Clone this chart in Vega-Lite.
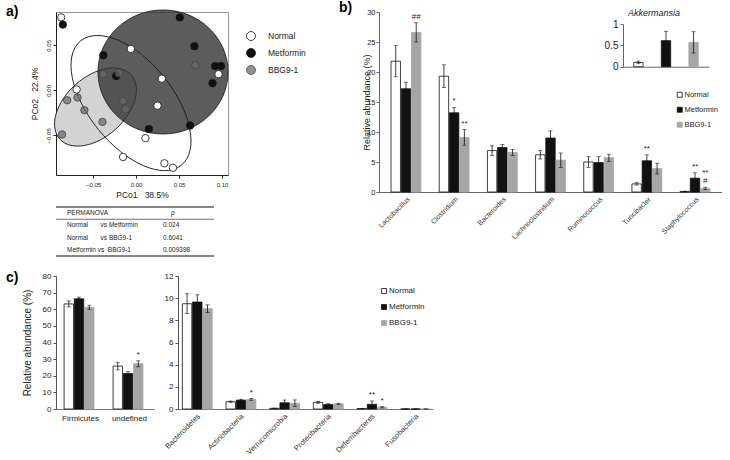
{
  "$schema": "https://vega.github.io/schema/vega-lite/v6.json",
  "background": "white",
  "padding": {"left": 5, "top": 1, "right": 0, "bottom": 0},
  "config": {
    "font": "Liberation Sans",
    "view": {"stroke": null},
    "axis": {"grid": false, "labelOverlap": false, "domainColor": "#555", "tickColor": "#555", "labelColor": "#222", "titleColor": "#222", "titleFontWeight": "normal"},
    "legend": {"labelColor": "#222"},
    "title": {"fontSize": 14, "fontWeight": "bold", "anchor": "start", "frame": "group", "color": "#000", "offset": 0}
  },
  "datasets": {
    "pcoa": [
      {"group": "Normal", "pc1": -0.087, "pc2": 0.081},
      {"group": "Normal", "pc1": -0.006, "pc2": 0.046},
      {"group": "Normal", "pc1": 0.030, "pc2": 0.013},
      {"group": "Normal", "pc1": -0.069, "pc2": 0.001},
      {"group": "Normal", "pc1": 0.025, "pc2": -0.017},
      {"group": "Normal", "pc1": 0.011, "pc2": -0.053},
      {"group": "Normal", "pc1": -0.015, "pc2": -0.074},
      {"group": "Normal", "pc1": 0.033, "pc2": -0.081},
      {"group": "Normal", "pc1": 0.043, "pc2": -0.086},
      {"group": "Normal", "pc1": 0.096, "pc2": 0.018},
      {"group": "Metformin", "pc1": -0.085, "pc2": 0.073},
      {"group": "Metformin", "pc1": 0.051, "pc2": 0.081},
      {"group": "Metformin", "pc1": 0.068, "pc2": 0.049},
      {"group": "Metformin", "pc1": -0.038, "pc2": 0.039},
      {"group": "Metformin", "pc1": -0.023, "pc2": 0.016},
      {"group": "Metformin", "pc1": 0.092, "pc2": 0.027},
      {"group": "Metformin", "pc1": 0.099, "pc2": 0.027},
      {"group": "Metformin", "pc1": 0.089, "pc2": 0.008},
      {"group": "Metformin", "pc1": 0.015, "pc2": -0.043},
      {"group": "Metformin", "pc1": 0.063, "pc2": -0.039},
      {"group": "BBG9-1", "pc1": -0.038, "pc2": 0.018},
      {"group": "BBG9-1", "pc1": -0.020, "pc2": 0.019},
      {"group": "BBG9-1", "pc1": 0.069, "pc2": 0.028},
      {"group": "BBG9-1", "pc1": -0.080, "pc2": -0.011},
      {"group": "BBG9-1", "pc1": -0.068, "pc2": -0.008},
      {"group": "BBG9-1", "pc1": -0.060, "pc2": -0.022},
      {"group": "BBG9-1", "pc1": -0.039, "pc2": -0.035},
      {"group": "BBG9-1", "pc1": -0.015, "pc2": -0.012},
      {"group": "BBG9-1", "pc1": -0.012, "pc2": -0.021},
      {"group": "BBG9-1", "pc1": -0.086, "pc2": -0.049}
    ],
    "centers": [
      {"group": "Normal", "pc1": -0.0058, "pc2": -0.0141},
      {"group": "Metformin", "pc1": 0.0314, "pc2": 0.0204},
      {"group": "BBG9-1", "pc1": -0.0471, "pc2": -0.0185}
    ],
    "permanova": [
      {"row": "h", "cmp": "PERMANOVA", "p": "p"},
      {"row": "r1", "cmp": "Normal\u00a0\u00a0\u00a0\u00a0\u00a0\u00a0\u00a0vs\u00a0Metformin", "p": "0.024"},
      {"row": "r2", "cmp": "Normal\u00a0\u00a0\u00a0\u00a0\u00a0\u00a0\u00a0vs\u00a0BBG9-1", "p": "0.6041"},
      {"row": "r3", "cmp": "Metformin\u00a0vs\u00a0\u00a0BBG9-1", "p": "0.009398"}
    ],
    "genus": [
      {"genus": "Lactobacillus", "group": "Normal", "mean": 21.8, "lo": 19.2, "hi": 24.4, "sig": "", "sig2": ""},
      {"genus": "Lactobacillus", "group": "Metformin", "mean": 17.2, "lo": 16.1, "hi": 18.3, "sig": "", "sig2": ""},
      {"genus": "Lactobacillus", "group": "BBG9-1", "mean": 26.6, "lo": 25.0, "hi": 28.2, "sig": "##", "sig2": ""},
      {"genus": "Clostridium", "group": "Normal", "mean": 19.3, "lo": 17.4, "hi": 21.2, "sig": "", "sig2": ""},
      {"genus": "Clostridium", "group": "Metformin", "mean": 13.2, "lo": 12.3, "hi": 14.1, "sig": "*", "sig2": ""},
      {"genus": "Clostridium", "group": "BBG9-1", "mean": 9.1, "lo": 7.8, "hi": 10.4, "sig": "**", "sig2": ""},
      {"genus": "Bacteroides", "group": "Normal", "mean": 6.9, "lo": 6.1, "hi": 7.7, "sig": "", "sig2": ""},
      {"genus": "Bacteroides", "group": "Metformin", "mean": 7.4, "lo": 7.0, "hi": 7.9, "sig": "", "sig2": ""},
      {"genus": "Bacteroides", "group": "BBG9-1", "mean": 6.6, "lo": 6.1, "hi": 7.1, "sig": "", "sig2": ""},
      {"genus": "Lachnoclostridium", "group": "Normal", "mean": 6.2, "lo": 5.5, "hi": 6.9, "sig": "", "sig2": ""},
      {"genus": "Lachnoclostridium", "group": "Metformin", "mean": 9.0, "lo": 7.8, "hi": 10.2, "sig": "", "sig2": ""},
      {"genus": "Lachnoclostridium", "group": "BBG9-1", "mean": 5.3, "lo": 4.1, "hi": 6.5, "sig": "", "sig2": ""},
      {"genus": "Ruminococcus", "group": "Normal", "mean": 5.0, "lo": 4.1, "hi": 5.9, "sig": "", "sig2": ""},
      {"genus": "Ruminococcus", "group": "Metformin", "mean": 4.9, "lo": 3.9, "hi": 5.9, "sig": "", "sig2": ""},
      {"genus": "Ruminococcus", "group": "BBG9-1", "mean": 5.7, "lo": 5.1, "hi": 6.3, "sig": "", "sig2": ""},
      {"genus": "Turicibacter", "group": "Normal", "mean": 1.35, "lo": 1.15, "hi": 1.55, "sig": "", "sig2": ""},
      {"genus": "Turicibacter", "group": "Metformin", "mean": 5.2, "lo": 4.2, "hi": 6.2, "sig": "**", "sig2": ""},
      {"genus": "Turicibacter", "group": "BBG9-1", "mean": 3.9, "lo": 3.0, "hi": 4.8, "sig": "", "sig2": ""},
      {"genus": "Staphylococcus", "group": "Normal", "mean": 0.1, "lo": 0.08, "hi": 0.12, "sig": "", "sig2": ""},
      {"genus": "Staphylococcus", "group": "Metformin", "mean": 2.3, "lo": 1.4, "hi": 3.2, "sig": "**", "sig2": ""},
      {"genus": "Staphylococcus", "group": "BBG9-1", "mean": 0.6, "lo": 0.4, "hi": 0.8, "sig": "#", "sig2": "**"}
    ],
    "akk": [
      {"group": "Normal", "mean": 0.1, "lo": 0.07, "hi": 0.13, "title": "Akkermansia"},
      {"group": "Metformin", "mean": 0.61, "lo": 0.39, "hi": 0.83, "title": "Akkermansia"},
      {"group": "BBG9-1", "mean": 0.57, "lo": 0.32, "hi": 0.82, "title": "Akkermansia"}
    ],
    "phylumA": [
      {"phylum": "Firmicutes", "group": "Normal", "mean": 63.2, "lo": 61.4, "hi": 65.0, "sig": ""},
      {"phylum": "Firmicutes", "group": "Metformin", "mean": 66.3, "lo": 65.3, "hi": 67.3, "sig": ""},
      {"phylum": "Firmicutes", "group": "BBG9-1", "mean": 61.2, "lo": 60.0, "hi": 62.4, "sig": ""},
      {"phylum": "undefined", "group": "Normal", "mean": 25.8, "lo": 23.5, "hi": 28.1, "sig": ""},
      {"phylum": "undefined", "group": "Metformin", "mean": 21.3, "lo": 20.1, "hi": 22.5, "sig": ""},
      {"phylum": "undefined", "group": "BBG9-1", "mean": 27.2, "lo": 25.4, "hi": 29.0, "sig": "*"}
    ],
    "phylumB": [
      {"phylum": "Bacteroidetes", "group": "Normal", "mean": 9.5, "lo": 8.6, "hi": 10.4, "sig": ""},
      {"phylum": "Bacteroidetes", "group": "Metformin", "mean": 9.65, "lo": 9.0, "hi": 10.3, "sig": ""},
      {"phylum": "Bacteroidetes", "group": "BBG9-1", "mean": 9.05, "lo": 8.7, "hi": 9.4, "sig": ""},
      {"phylum": "Actinobacteria", "group": "Normal", "mean": 0.66, "lo": 0.6, "hi": 0.72, "sig": ""},
      {"phylum": "Actinobacteria", "group": "Metformin", "mean": 0.8, "lo": 0.72, "hi": 0.88, "sig": ""},
      {"phylum": "Actinobacteria", "group": "BBG9-1", "mean": 0.86, "lo": 0.78, "hi": 0.94, "sig": "*"},
      {"phylum": "Verrucomicrobia", "group": "Normal", "mean": 0.06, "lo": 0.04, "hi": 0.08, "sig": ""},
      {"phylum": "Verrucomicrobia", "group": "Metformin", "mean": 0.56, "lo": 0.31, "hi": 0.81, "sig": ""},
      {"phylum": "Verrucomicrobia", "group": "BBG9-1", "mean": 0.52, "lo": 0.22, "hi": 0.82, "sig": ""},
      {"phylum": "Proteobacteria", "group": "Normal", "mean": 0.6, "lo": 0.52, "hi": 0.68, "sig": ""},
      {"phylum": "Proteobacteria", "group": "Metformin", "mean": 0.4, "lo": 0.32, "hi": 0.48, "sig": ""},
      {"phylum": "Proteobacteria", "group": "BBG9-1", "mean": 0.47, "lo": 0.42, "hi": 0.52, "sig": ""},
      {"phylum": "Deferribacteres", "group": "Normal", "mean": 0.04, "lo": 0.03, "hi": 0.05, "sig": ""},
      {"phylum": "Deferribacteres", "group": "Metformin", "mean": 0.42, "lo": 0.12, "hi": 0.72, "sig": "**"},
      {"phylum": "Deferribacteres", "group": "BBG9-1", "mean": 0.16, "lo": 0.1, "hi": 0.22, "sig": "*"},
      {"phylum": "Fusobacteria", "group": "Normal", "mean": 0, "lo": 0, "hi": 0, "sig": ""},
      {"phylum": "Fusobacteria", "group": "Metformin", "mean": 0, "lo": 0, "hi": 0, "sig": ""},
      {"phylum": "Fusobacteria", "group": "BBG9-1", "mean": 0, "lo": 0, "hi": 0, "sig": ""}
    ]
  },
  "resolve": {"scale": {"fill": "independent", "stroke": "independent"}, "legend": {"fill": "independent", "stroke": "independent"}},
  "spacing": 14,
  "vconcat": [
    {
      "resolve": {"scale": {"fill": "independent", "stroke": "independent"}, "legend": {"fill": "independent", "stroke": "independent"}},
      "spacing": 32,
      "align": "none",
      "hconcat": [
        {
          "bounds": "flush",
          "spacing": 32,
          "resolve": {"scale": {"fill": "independent", "stroke": "independent"}, "legend": {"fill": "independent", "stroke": "independent"}},
          "vconcat": [
            {
              "width": 172, "height": 163,
              "view": {"stroke": "#999"},
              "title": {"text": "a)", "dx": -50, "dy": 15},
              "encoding": {
                "x": {"field": "pc1", "type": "quantitative", "scale": {"domain": [-0.093, 0.107], "nice": false, "zero": false},
                  "axis": {"values": [-0.05, 0, 0.05, 0.1], "format": ".2f", "labelFontSize": 6, "tickSize": 3, "labelPadding": 3, "domainColor": "#222", "tickColor": "#222", "title": "PCo1\u00a0\u00a0\u00a038.5%", "titleFontSize": 8.5, "titlePadding": 3}},
                "y": {"field": "pc2", "type": "quantitative", "scale": {"domain": [-0.094, 0.087], "nice": false, "zero": false},
                  "axis": {"values": [-0.05, 0, 0.05], "format": ".2f", "labelAngle": 270, "labelAlign": "center", "labelBaseline": "bottom", "labelFontSize": 6, "tickSize": 3, "labelPadding": 2, "domainColor": "#222", "tickColor": "#222", "title": "PCo2\u00a0\u00a0\u00a022.4%", "titleFontSize": 8.5, "titlePadding": 6}}
              },
              "layer": [
                {"data": {"name": "centers"}, "transform": [{"filter": "datum.group === 'BBG9-1'"}],
                 "mark": {"type": "point", "shape": "M -1 0 A 1 0.625 0 1 1 1 0 A 1 0.625 0 1 1 -1 0 Z", "size": 9216, "angle": 318, "filled": true, "fill": "#d3d3d3", "stroke": "#222", "strokeWidth": 0.9, "opacity": 1}},
                {"data": {"name": "centers"}, "transform": [{"filter": "datum.group === 'Metformin'"}],
                 "mark": {"type": "point", "shape": "M -1 0 A 1 0.954 0 1 1 1 0 A 1 0.954 0 1 1 -1 0 Z", "size": 16900, "angle": 0, "filled": true, "fill": "#333333", "fillOpacity": 0.8, "stroke": "#222", "strokeWidth": 0.9, "opacity": 1}},
                {"data": {"name": "centers"}, "transform": [{"filter": "datum.group === 'Normal'"}],
                 "mark": {"type": "point", "shape": "M -1 0 A 1 0.525 0 1 1 1 0 A 1 0.525 0 1 1 -1 0 Z", "size": 25600, "angle": 51, "filled": false, "stroke": "#222", "strokeWidth": 0.9, "opacity": 1}},
                {"data": {"name": "pcoa"},
                 "mark": {"type": "point", "filled": true, "size": 55, "strokeWidth": 0.8, "opacity": 1},
                 "encoding": {
                   "fill": {"field": "group", "type": "nominal", "scale": {"domain": ["Normal", "Metformin", "BBG9-1"], "range": ["#ffffff", "#111111", "rgba(105,105,105,0.72)"]},
                     "legend": {"orient": "none", "legendX": 190, "legendY": 19, "title": null, "symbolType": "circle", "symbolSize": 80, "symbolStrokeWidth": 0.8, "labelFontSize": 8.5, "labelOffset": 12, "rowPadding": 3}},
                   "stroke": {"field": "group", "type": "nominal", "scale": {"domain": ["Normal", "Metformin", "BBG9-1"], "range": ["#111111", "#111111", "#444444"]},
                     "legend": {"orient": "none", "legendX": 190, "legendY": 19, "title": null, "symbolType": "circle", "symbolSize": 80, "symbolStrokeWidth": 0.8, "labelFontSize": 8.5, "labelOffset": 12, "rowPadding": 3}}
                 }}
              ]
            },
            {
              "width": 158, "height": 49,
              "layer": [
                {"data": {"values": [{"k": 1}]}, "mark": {"type": "rule", "color": "#111", "strokeWidth": 1},
                 "encoding": {"y": {"datum": "h", "type": "nominal", "bandPosition": 0, "scale": {"type": "band", "domain": ["h", "r1", "r2", "r3"], "paddingInner": 0, "paddingOuter": 0}, "axis": null}}},
                {"data": {"values": [{"k": 1}]}, "mark": {"type": "rule", "color": "#333", "strokeWidth": 0.7},
                 "encoding": {"y": {"datum": "r1", "type": "nominal", "bandPosition": 0, "axis": null}}},
                {"data": {"values": [{"k": 1}]}, "mark": {"type": "rule", "color": "#111", "strokeWidth": 1},
                 "encoding": {"y": {"datum": "r3", "type": "nominal", "bandPosition": 1, "axis": null}}},
                {"data": {"name": "permanova"}, "mark": {"type": "text", "align": "left", "dx": 11, "fontSize": 6.5, "color": "#222"},
                 "encoding": {
                   "x": {"datum": "cmp", "type": "nominal", "bandPosition": 0, "scale": {"type": "band", "domain": ["cmp", "p"], "paddingInner": 0, "paddingOuter": 0}, "axis": null},
                   "y": {"field": "row", "type": "nominal", "axis": null},
                   "text": {"field": "cmp"}}},
                {"data": {"name": "permanova"}, "transform": [{"filter": "datum.row !== 'h'"}], "mark": {"type": "text", "align": "left", "dx": 28, "fontSize": 6.5, "color": "#222"},
                 "encoding": {"x": {"datum": "p", "type": "nominal", "bandPosition": 0, "axis": null}, "y": {"field": "row", "type": "nominal", "axis": null}, "text": {"field": "p"}}},
                {"data": {"name": "permanova"}, "transform": [{"filter": "datum.row === 'h'"}], "mark": {"type": "text", "align": "left", "dx": 36, "fontSize": 6.5, "fontStyle": "italic", "color": "#222"},
                 "encoding": {"x": {"datum": "p", "type": "nominal", "bandPosition": 0, "axis": null}, "y": {"field": "row", "type": "nominal", "axis": null}, "text": {"field": "p"}}}
              ]
            }
          ]
        },
        {
          "width": 343, "height": 180,
          "title": {"text": "b)", "dx": -40, "dy": 11},
          "layer": [
            {
              "data": {"name": "genus"},
              "encoding": {
                "x": {"field": "genus", "type": "nominal", "sort": null, "scale": {"domain": ["Lactobacillus", "Clostridium", "Bacteroides", "Lachnoclostridium", "Ruminococcus", "Turicibacter", "Staphylococcus"], "paddingInner": 0.38, "paddingOuter": 0.25},
                  "axis": {"title": null, "labelAngle": -45, "labelFontSize": 7, "ticks": false, "labelPadding": 3, "domainColor": "#666", "labelColor": "#333"}},
                "xOffset": {"field": "group", "type": "nominal", "sort": null, "scale": {"domain": ["Normal", "Metformin", "BBG9-1"], "paddingInner": 0.08}}
              },
              "layer": [
                {"mark": {"type": "bar", "strokeWidth": 0.8},
                 "encoding": {
                   "y": {"field": "mean", "type": "quantitative", "scale": {"domain": [0, 30], "nice": false},
                     "axis": {"title": "Relative abundance (%)", "titleFontSize": 9, "values": [0, 5, 10, 15, 20, 25, 30], "format": "d", "labelOverlap": false, "labelFontSize": 7.5, "tickSize": 3, "labelPadding": 1, "titlePadding": -5, "domainColor": "#666", "tickColor": "#666"}},
                   "fill": {"field": "group", "type": "nominal", "scale": {"domain": ["Normal", "Metformin", "BBG9-1"], "range": ["#ffffff", "#111111", "#a6a6a6"]},
                     "legend": {"orient": "none", "legendX": 297, "legendY": 79, "title": null, "symbolType": "square", "symbolSize": 25, "symbolStrokeWidth": 0.8, "labelFontSize": 7.5, "labelOffset": 1, "rowPadding": 6}},
                   "stroke": {"field": "group", "type": "nominal", "scale": {"domain": ["Normal", "Metformin", "BBG9-1"], "range": ["#111111", "#111111", "#a6a6a6"]},
                     "legend": {"orient": "none", "legendX": 297, "legendY": 79, "title": null, "symbolType": "square", "symbolSize": 25, "symbolStrokeWidth": 0.8, "labelFontSize": 7.5, "labelOffset": 1, "rowPadding": 6}}
                 }},
                {"mark": {"type": "rule", "color": "#111", "strokeWidth": 0.8}, "encoding": {"y": {"field": "lo", "type": "quantitative", "axis": {"title": "Relative abundance (%)", "titleFontSize": 9, "values": [0, 5, 10, 15, 20, 25, 30], "format": "d", "labelOverlap": false, "labelFontSize": 7.5, "tickSize": 3, "labelPadding": 1, "titlePadding": -5, "domainColor": "#666", "tickColor": "#666"}}, "y2": {"field": "hi"}}},
                {"mark": {"type": "tick", "orient": "horizontal", "size": 4, "thickness": 0.8, "color": "#111"}, "encoding": {"y": {"field": "hi", "type": "quantitative", "axis": {"title": "Relative abundance (%)", "titleFontSize": 9, "values": [0, 5, 10, 15, 20, 25, 30], "format": "d", "labelOverlap": false, "labelFontSize": 7.5, "tickSize": 3, "labelPadding": 1, "titlePadding": -5, "domainColor": "#666", "tickColor": "#666"}}}},
                {"mark": {"type": "tick", "orient": "horizontal", "size": 4, "thickness": 0.8, "color": "#111"}, "encoding": {"y": {"field": "lo", "type": "quantitative", "axis": {"title": "Relative abundance (%)", "titleFontSize": 9, "values": [0, 5, 10, 15, 20, 25, 30], "format": "d", "labelOverlap": false, "labelFontSize": 7.5, "tickSize": 3, "labelPadding": 1, "titlePadding": -5, "domainColor": "#666", "tickColor": "#666"}}}},
                {"transform": [{"filter": "datum.sig != ''"}],
                 "mark": {"type": "text", "baseline": "bottom", "dy": -2, "fontSize": 8, "color": "#222"},
                 "encoding": {"y": {"field": "hi", "type": "quantitative", "axis": {"title": "Relative abundance (%)", "titleFontSize": 9, "values": [0, 5, 10, 15, 20, 25, 30], "format": "d", "labelOverlap": false, "labelFontSize": 7.5, "tickSize": 3, "labelPadding": 1, "titlePadding": -5, "domainColor": "#666", "tickColor": "#666"}}, "text": {"field": "sig"}}},
                {"transform": [{"filter": "datum.sig2 != ''"}],
                 "mark": {"type": "text", "baseline": "bottom", "dy": -10, "fontSize": 8, "color": "#222"},
                 "encoding": {"y": {"field": "hi", "type": "quantitative", "axis": {"title": "Relative abundance (%)", "titleFontSize": 9, "values": [0, 5, 10, 15, 20, 25, 30], "format": "d", "labelOverlap": false, "labelFontSize": 7.5, "tickSize": 3, "labelPadding": 1, "titlePadding": -5, "domainColor": "#666", "tickColor": "#666"}}, "text": {"field": "sig2"}}}
              ]
            },
            {
              "data": {"name": "akk"},
              "encoding": {
                "x": {"field": "group", "type": "nominal", "sort": null, "scale": {"domain": ["Normal", "Metformin", "BBG9-1"], "range": [244, 330], "paddingInner": 0.66, "paddingOuter": 0.39},
                  "axis": {"orient": "bottom", "offset": -125.3, "labels": false, "ticks": false, "title": null, "domainColor": "#666"}}
              },
              "layer": [
                {"mark": {"type": "bar", "strokeWidth": 0.8},
                 "encoding": {
                   "y": {"field": "mean", "type": "quantitative", "scale": {"domain": [0, 1], "range": [54.7, 12], "nice": false},
                     "axis": {"orient": "left", "offset": -244, "values": [0, 0.5, 1], "format": "~g", "labelOverlap": false, "labelFontSize": 10, "tickSize": 3, "title": null, "domainColor": "#666", "tickColor": "#666"}},
                   "fill": {"field": "group", "type": "nominal",
                     "legend": {"orient": "none", "legendX": 297, "legendY": 79, "title": null, "symbolType": "square", "symbolSize": 25, "symbolStrokeWidth": 0.8, "labelFontSize": 7.5, "labelOffset": 1, "rowPadding": 6}},
                   "stroke": {"field": "group", "type": "nominal",
                     "legend": {"orient": "none", "legendX": 297, "legendY": 79, "title": null, "symbolType": "square", "symbolSize": 25, "symbolStrokeWidth": 0.8, "labelFontSize": 7.5, "labelOffset": 1, "rowPadding": 6}}
                 }},
                {"mark": {"type": "rule", "color": "#111", "strokeWidth": 0.8}, "encoding": {"y": {"field": "lo", "type": "quantitative", "axis": {"orient": "left", "offset": -244, "values": [0, 0.5, 1], "format": "~g", "labelOverlap": false, "labelFontSize": 10, "tickSize": 3, "title": null, "domainColor": "#666", "tickColor": "#666"}}, "y2": {"field": "hi"}}},
                {"mark": {"type": "tick", "orient": "horizontal", "size": 4, "thickness": 0.8, "color": "#111"}, "encoding": {"y": {"field": "hi", "type": "quantitative", "axis": {"orient": "left", "offset": -244, "values": [0, 0.5, 1], "format": "~g", "labelOverlap": false, "labelFontSize": 10, "tickSize": 3, "title": null, "domainColor": "#666", "tickColor": "#666"}}}},
                {"mark": {"type": "tick", "orient": "horizontal", "size": 4, "thickness": 0.8, "color": "#111"}, "encoding": {"y": {"field": "lo", "type": "quantitative", "axis": {"orient": "left", "offset": -244, "values": [0, 0.5, 1], "format": "~g", "labelOverlap": false, "labelFontSize": 10, "tickSize": 3, "title": null, "domainColor": "#666", "tickColor": "#666"}}}},
                {"transform": [{"filter": "datum.group === 'Metformin'"}],
                 "mark": {"type": "text", "fontSize": 9, "fontStyle": "italic", "dx": -12, "color": "#222"},
                 "encoding": {"y": {"datum": 1.25, "type": "quantitative", "axis": {"orient": "left", "offset": -244, "values": [0, 0.5, 1], "format": "~g", "labelOverlap": false, "labelFontSize": 10, "tickSize": 3, "title": null, "domainColor": "#666", "tickColor": "#666"}}, "text": {"field": "title"}}}
              ]
            }
          ],
          "resolve": {"scale": {"x": "independent", "y": "independent"}}
        }
      ]
    },
    {
      "bounds": "flush",
      "spacing": 24,
      "resolve": {"scale": {"fill": "independent", "stroke": "independent"}, "legend": {"fill": "independent", "stroke": "independent"}},
      "hconcat": [
        {
          "width": 98, "height": 133,
          "title": {"text": "c)", "dx": -50, "dy": 17},
          "data": {"name": "phylumA"},
          "encoding": {
            "x": {"field": "phylum", "type": "nominal", "sort": null, "scale": {"domain": ["Firmicutes", "undefined"], "paddingInner": 0.33, "paddingOuter": 0.165},
              "axis": {"title": null, "labelAngle": 0, "labelFontSize": 8, "ticks": false, "labelPadding": 5, "domainColor": "#777"}},
            "xOffset": {"field": "group", "type": "nominal", "sort": null, "scale": {"domain": ["Normal", "Metformin", "BBG9-1"], "paddingInner": 0.08}}
          },
          "layer": [
            {"mark": {"type": "bar", "strokeWidth": 0.8},
             "encoding": {
               "y": {"field": "mean", "type": "quantitative", "scale": {"domain": [0, 80], "nice": false},
                 "axis": {"title": "Relative abundance (%)", "titleFontSize": 10, "values": [0, 10, 20, 30, 40, 50, 60, 70, 80], "format": "d", "labelOverlap": false, "labelFontSize": 8, "tickSize": 3, "titlePadding": 10, "domainColor": "#555"}},
               "fill": {"field": "group", "type": "nominal", "scale": {"domain": ["Normal", "Metformin", "BBG9-1"], "range": ["#ffffff", "#111111", "#a6a6a6"]}, "legend": null},
               "stroke": {"field": "group", "type": "nominal", "scale": {"domain": ["Normal", "Metformin", "BBG9-1"], "range": ["#111111", "#111111", "#a6a6a6"]}, "legend": null}
             }},
            {"mark": {"type": "rule", "color": "#111", "strokeWidth": 0.8}, "encoding": {"y": {"field": "lo", "type": "quantitative", "axis": {"title": "Relative abundance (%)", "titleFontSize": 10, "values": [0, 10, 20, 30, 40, 50, 60, 70, 80], "format": "d", "labelOverlap": false, "labelFontSize": 8, "tickSize": 3, "titlePadding": 10, "domainColor": "#555"}}, "y2": {"field": "hi"}}},
            {"mark": {"type": "tick", "orient": "horizontal", "size": 4, "thickness": 0.8, "color": "#111"}, "encoding": {"y": {"field": "hi", "type": "quantitative", "axis": {"title": "Relative abundance (%)", "titleFontSize": 10, "values": [0, 10, 20, 30, 40, 50, 60, 70, 80], "format": "d", "labelOverlap": false, "labelFontSize": 8, "tickSize": 3, "titlePadding": 10, "domainColor": "#555"}}}},
            {"mark": {"type": "tick", "orient": "horizontal", "size": 4, "thickness": 0.8, "color": "#111"}, "encoding": {"y": {"field": "lo", "type": "quantitative", "axis": {"title": "Relative abundance (%)", "titleFontSize": 10, "values": [0, 10, 20, 30, 40, 50, 60, 70, 80], "format": "d", "labelOverlap": false, "labelFontSize": 8, "tickSize": 3, "titlePadding": 10, "domainColor": "#555"}}}},
            {"transform": [{"filter": "datum.sig != ''"}],
             "mark": {"type": "text", "baseline": "bottom", "dy": -2, "fontSize": 8, "color": "#222"},
             "encoding": {"y": {"field": "hi", "type": "quantitative", "axis": {"title": "Relative abundance (%)", "titleFontSize": 10, "values": [0, 10, 20, 30, 40, 50, 60, 70, 80], "format": "d", "labelOverlap": false, "labelFontSize": 8, "tickSize": 3, "titlePadding": 10, "domainColor": "#555"}}, "text": {"field": "sig"}}}
          ]
        },
        {
          "width": 255, "height": 133,
          "data": {"name": "phylumB"},
          "encoding": {
            "x": {"field": "phylum", "type": "nominal", "sort": null, "scale": {"domain": ["Bacteroidetes", "Actinobacteria", "Verrucomicrobia", "Proteobacteria", "Deferribacteres", "Fusobacteria"], "paddingInner": 0.36, "paddingOuter": 0.1},
              "axis": {"title": null, "labelAngle": -45, "labelFontSize": 7.5, "ticks": false, "labelPadding": 3, "domainColor": "#777", "labelColor": "#333"}},
            "xOffset": {"field": "group", "type": "nominal", "sort": null, "scale": {"domain": ["Normal", "Metformin", "BBG9-1"], "paddingInner": 0.08}}
          },
          "layer": [
            {"mark": {"type": "bar", "strokeWidth": 0.8},
             "encoding": {
               "y": {"field": "mean", "type": "quantitative", "scale": {"domain": [0, 12], "nice": false},
                 "axis": {"title": null, "values": [0, 2, 4, 6, 8, 10, 12], "format": "d", "labelOverlap": false, "labelFontSize": 8, "tickSize": 3, "domainColor": "#555"}},
               "fill": {"field": "group", "type": "nominal", "scale": {"domain": ["Normal", "Metformin", "BBG9-1"], "range": ["#ffffff", "#111111", "#a6a6a6"]},
                 "legend": {"orient": "none", "legendX": 202, "legendY": 11, "title": null, "symbolType": "square", "symbolSize": 25, "symbolStrokeWidth": 0.8, "labelFontSize": 8, "labelOffset": 1, "rowPadding": 6}},
               "stroke": {"field": "group", "type": "nominal", "scale": {"domain": ["Normal", "Metformin", "BBG9-1"], "range": ["#111111", "#111111", "#a6a6a6"]},
                 "legend": {"orient": "none", "legendX": 202, "legendY": 11, "title": null, "symbolType": "square", "symbolSize": 25, "symbolStrokeWidth": 0.8, "labelFontSize": 8, "labelOffset": 1, "rowPadding": 6}}
             }},
            {"mark": {"type": "rule", "color": "#111", "strokeWidth": 0.8}, "encoding": {"y": {"field": "lo", "type": "quantitative", "axis": {"title": null, "values": [0, 2, 4, 6, 8, 10, 12], "format": "d", "labelOverlap": false, "labelFontSize": 8, "tickSize": 3, "domainColor": "#555"}}, "y2": {"field": "hi"}}},
            {"mark": {"type": "tick", "orient": "horizontal", "size": 4, "thickness": 0.8, "color": "#111"}, "encoding": {"y": {"field": "hi", "type": "quantitative", "axis": {"title": null, "values": [0, 2, 4, 6, 8, 10, 12], "format": "d", "labelOverlap": false, "labelFontSize": 8, "tickSize": 3, "domainColor": "#555"}}}},
            {"mark": {"type": "tick", "orient": "horizontal", "size": 4, "thickness": 0.8, "color": "#111"}, "encoding": {"y": {"field": "lo", "type": "quantitative", "axis": {"title": null, "values": [0, 2, 4, 6, 8, 10, 12], "format": "d", "labelOverlap": false, "labelFontSize": 8, "tickSize": 3, "domainColor": "#555"}}}},
            {"transform": [{"filter": "datum.sig != ''"}],
             "mark": {"type": "text", "baseline": "bottom", "dy": -2, "fontSize": 8, "color": "#222"},
             "encoding": {"y": {"field": "hi", "type": "quantitative", "axis": {"title": null, "values": [0, 2, 4, 6, 8, 10, 12], "format": "d", "labelOverlap": false, "labelFontSize": 8, "tickSize": 3, "domainColor": "#555"}}, "text": {"field": "sig"}}}
          ]
        }
      ]
    }
  ]
}
